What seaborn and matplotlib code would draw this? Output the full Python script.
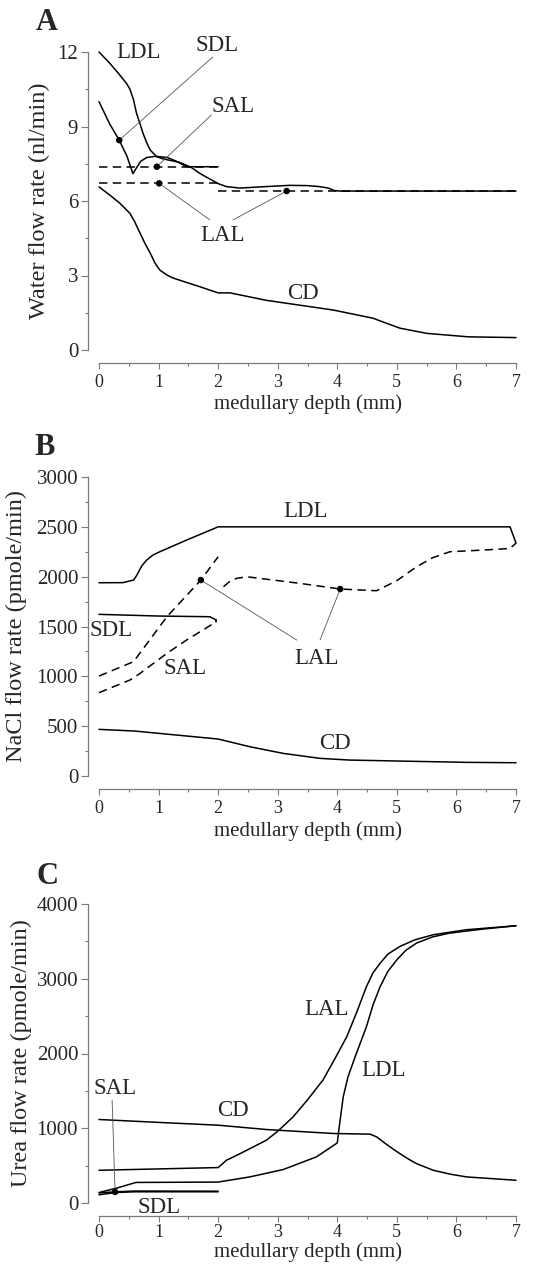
import numpy as np
import pandas as pd
import matplotlib
matplotlib.use("Agg")
import matplotlib.pyplot as plt
from matplotlib.ticker import MultipleLocator
import seaborn as sns

# ---- Panel A: water flow (nl/min) ----
a_ldl_x = [0, 0.18, 0.35, 0.46, 0.52, 0.58, 0.63, 0.69, 0.74, 0.8, 0.86, 0.97, 1.07, 1.36, 1.55,
           1.7, 1.85, 2.0, 2.14, 2.36, 2.8, 3.2, 3.5, 3.7, 3.85, 3.95, 4.05, 7.0]
a_ldl_y = [12.0, 11.55, 11.07, 10.74, 10.5, 10.07, 9.53, 9.1, 8.72, 8.35, 8.05, 7.78, 7.7, 7.55,
           7.35, 7.1, 6.9, 6.7, 6.58, 6.52, 6.58, 6.63, 6.62, 6.58, 6.52, 6.42, 6.4, 6.4]
a_sdl_x = [0, 0.1, 0.18, 0.34, 0.47, 0.57, 0.62, 0.7, 0.8, 0.95, 1.15, 1.3, 1.47, 2.0]
a_sdl_y = [10.0, 9.5, 9.1, 8.45, 7.8, 7.1, 7.3, 7.6, 7.75, 7.8, 7.75, 7.6, 7.38, 7.38]
a_sal_x = [0, 2.0]
a_sal_y = [7.38, 7.38]
a_lal1_x = [0, 2.0]
a_lal1_y = [6.71, 6.71]
a_lal2_x = [2.0, 7.0]
a_lal2_y = [6.4, 6.4]
a_cd_x = [0, 0.18, 0.35, 0.52, 0.6, 0.69, 0.77, 0.86, 0.94, 1.02, 1.14, 1.24, 1.69, 2.0, 2.2,
          2.81, 3.93, 4.6, 4.8, 5.05, 5.5, 6.2, 7.0]
a_cd_y = [6.57, 6.24, 5.91, 5.5, 5.16, 4.7, 4.3, 3.9, 3.5, 3.22, 3.02, 2.9, 2.55, 2.3, 2.3,
          2.0, 1.61, 1.28, 1.1, 0.88, 0.67, 0.53, 0.5]
a_dots_x = [0.34, 0.97, 1.01, 3.15]
a_dots_y = [8.45, 7.38, 6.71, 6.4]

# ---- Panel B: NaCl flow (pmole/min) ----
b_ldl_x = [0, 0.4, 0.58, 0.63, 0.72, 0.8, 0.9, 1.02, 1.47, 2.0, 6.9, 7.0]
b_ldl_y = [1939, 1940, 1966, 2010, 2110, 2166, 2215, 2250, 2367, 2500, 2500, 2337]
b_sdl_x = [0, 1.0, 1.86, 1.97]
b_sdl_y = [1622, 1605, 1598, 1565]
b_sal_x = [0, 0.52, 0.69, 1.14, 1.47, 1.97]
b_sal_y = [836, 963, 1030, 1231, 1364, 1548]
b_lal1_x = [0, 0.58, 1.14, 1.71, 2.0]
b_lal1_y = [1003, 1147, 1598, 1966, 2200]
b_lal2_x = [2.09, 2.2, 2.31, 2.48, 3.37, 4.05, 4.66, 5.0, 5.33, 5.6, 5.89, 6.45, 6.9, 7.0]
b_lal2_y = [1899, 1955, 1983, 1999, 1933, 1876, 1859, 1960, 2099, 2190, 2250, 2267, 2283, 2337]
b_cd_x = [0, 0.6, 2.0, 2.53, 3.09, 3.71, 4.2, 5.04, 6.16, 7.0]
b_cd_y = [468, 451, 371, 294, 227, 177, 160, 150, 137, 133]
b_dots_x = [1.71, 4.05]
b_dots_y = [1966, 1876]

# ---- Panel C: urea flow (pmole/min) ----
c_lal_x = [0, 2.0, 2.14, 2.37, 2.81, 3.0, 3.26, 3.5, 3.76, 3.96, 4.16, 4.33, 4.49, 4.6, 4.72,
           4.85, 5.05, 5.3, 5.61, 6.17, 7.0]
c_lal_y = [438, 474, 572, 661, 840, 960, 1153, 1380, 1645, 1930, 2226, 2560, 2896, 3080, 3209,
           3330, 3432, 3520, 3589, 3656, 3709]
c_ldl_x = [0, 0.3, 0.62, 2.0, 2.53, 3.09, 3.65, 4.0, 4.04, 4.1, 4.18, 4.3, 4.49, 4.6, 4.72,
           4.85, 5.0, 5.15, 5.33, 5.6, 5.89, 6.45, 7.0]
c_ldl_y = [140, 200, 275, 280, 349, 447, 617, 804, 1064, 1421, 1689, 1957, 2360, 2650, 2896,
           3100, 3253, 3380, 3477, 3560, 3611, 3665, 3709]
c_sdl_x = [0, 0.28, 0.6, 2.0]
c_sdl_y = [110, 140, 150, 150]
c_sal_x = [0, 0.28, 0.6, 2.0]
c_sal_y = [135, 150, 160, 158]
c_cd_x = [0, 1.14, 2.0, 2.81, 3.93, 4.55, 4.66, 4.8, 4.95, 5.05, 5.2, 5.33, 5.61, 5.9, 6.17, 7.0]
c_cd_y = [1117, 1073, 1041, 983, 930, 921, 885, 800, 715, 661, 585, 527, 438, 385, 349, 304]
c_dots_x = [0.27]
c_dots_y = [148]

sns.set_style("ticks")
plt.rcParams["font.family"] = ["Liberation Serif", "DejaVu Serif"]

W, H = 534, 1265
fig = plt.figure(figsize=(W / 100, H / 100), dpi=100)

GREY = "#7a7a7a"
LW = 1.1
DASH = (0, (5.5, 3.5))


def make_axes(top_px, bottom_px):
    return fig.add_axes([99 / W, 1 - bottom_px / H, 417 / W, (bottom_px - top_px) / H])


def curve(ax, x, y, dashed=False):
    sns.lineplot(x=x, y=y, ax=ax, color="black", linewidth=LW, sort=False,
                 linestyle=DASH if dashed else "-", estimator=None)
    ax.lines[-1].set_clip_on(False)


def dots(ax, x, y):
    sns.scatterplot(x=x, y=y, ax=ax, color="black", s=22, edgecolor="none", zorder=5)
    ax.collections[-1].set_clip_on(False)


def pointer(ax, p0, p1):
    ax.plot([p0[0], p1[0]], [p0[1], p1[1]], color="#555555", linewidth=0.6, clip_on=False)


def label(ax, x, y, s):
    ax.text(x, y, s, fontsize=16.5, ha="center", va="center", clip_on=False)


def style_axes(ax, ymax, ymajor, ylabel, xoff, xpad, ylab_x, xlabpad):
    ax.set_xlim(0, 7)
    ax.set_ylim(0, ymax)
    ax.xaxis.set_major_locator(MultipleLocator(1))
    ax.xaxis.set_minor_locator(MultipleLocator(0.5))
    ax.yaxis.set_major_locator(MultipleLocator(ymajor))
    ax.yaxis.set_minor_locator(MultipleLocator(ymajor / 2))
    sns.despine(ax=ax, offset={"left": 8, "bottom": xoff})
    for sp in ["left", "bottom"]:
        ax.spines[sp].set_color(GREY)
        ax.spines[sp].set_linewidth(0.9)
    ax.tick_params(axis="y", which="major", length=5, width=0.8, color=GREY,
                   labelsize=15, pad=2)
    ax.tick_params(axis="y", which="minor", length=2.5, width=0.8, color=GREY)
    ax.tick_params(axis="x", which="major", length=4.5, width=0.8, color=GREY,
                   labelsize=13, pad=xpad)
    ax.tick_params(axis="x", which="minor", length=2.5, width=0.8, color=GREY)
    ax.set_ylabel(ylabel, fontsize=17.5)
    ax.yaxis.set_label_coords(ylab_x, 0.5)
    ax.set_xlabel("medullary depth (mm)", fontsize=15, labelpad=xlabpad)


# Panel A
axA = make_axes(52, 350)
curve(axA, a_sal_x, a_sal_y, dashed=True)
curve(axA, a_lal1_x, a_lal1_y, dashed=True)
curve(axA, a_lal2_x, a_lal2_y, dashed=True)
curve(axA, a_ldl_x, a_ldl_y)
curve(axA, a_sdl_x, a_sdl_y)
curve(axA, a_cd_x, a_cd_y)
pointer(axA, (a_dots_x[0], a_dots_y[0]), (1.91, 11.8))
pointer(axA, (a_dots_x[1], a_dots_y[1]), (1.89, 9.47))
pointer(axA, (a_dots_x[2], a_dots_y[2]), (1.86, 5.24))
pointer(axA, (a_dots_x[3], a_dots_y[3]), (2.25, 5.24))
dots(axA, a_dots_x, a_dots_y)
label(axA, 0.66, 12.0, "LDL")
label(axA, 1.98, 12.25, "SDL")
label(axA, 2.25, 9.8, "SAL")
label(axA, 2.08, 4.6, "LAL")
label(axA, 3.43, 2.28, "CD")
style_axes(axA, 12, 3, "Water flow rate (nl/min)", 9, 4, -0.1175, 2)

# Panel B
axB = make_axes(477, 776)
curve(axB, b_sal_x, b_sal_y, dashed=True)
curve(axB, b_lal1_x, b_lal1_y, dashed=True)
curve(axB, b_lal2_x, b_lal2_y, dashed=True)
curve(axB, b_ldl_x, b_ldl_y)
curve(axB, b_sdl_x, b_sdl_y)
curve(axB, [b_sdl_x[-1], b_sal_x[-1]], [b_sdl_y[-1], b_sal_y[-1]])
curve(axB, b_cd_x, b_cd_y)
pointer(axB, (b_dots_x[0], b_dots_y[0]), (3.32, 1364))
pointer(axB, (b_dots_x[1], b_dots_y[1]), (3.71, 1364))
dots(axB, b_dots_x, b_dots_y)
label(axB, 3.46, 2650, "LDL")
label(axB, 0.21, 1464, "SDL")
label(axB, 1.44, 1080, "SAL")
label(axB, 3.65, 1180, "LAL")
label(axB, 3.96, 328, "CD")
style_axes(axB, 3000, 500, "NaCl flow rate (pmole/min)", 9.5, 3, -0.173, 3)

# Panel C
axC = make_axes(904, 1203)
curve(axC, c_sdl_x, c_sdl_y)
curve(axC, c_sal_x, c_sal_y)
curve(axC, c_ldl_x, c_ldl_y)
curve(axC, c_lal_x, c_lal_y)
curve(axC, c_cd_x, c_cd_y)
pointer(axC, (c_dots_x[0], c_dots_y[0]), (0.22, 1377))
dots(axC, c_dots_x, c_dots_y)
label(axC, 3.82, 2583, "LAL")
label(axC, 4.77, 1779, "LDL")
label(axC, 2.25, 1242, "CD")
label(axC, 0.27, 1533, "SAL")
label(axC, 1.01, -54, "SDL")
style_axes(axC, 4000, 1000, "Urea flow rate (pmole/min)", 9.5, 1, -0.161, 1)

for txt, (px, py) in zip("ABC", [(47, 23), (45, 448), (47, 877)]):
    fig.text(px / W, 1 - py / H, txt, fontsize=22, fontweight="bold",
             ha="center", va="center")

fig.savefig("out.png", dpi=100)
